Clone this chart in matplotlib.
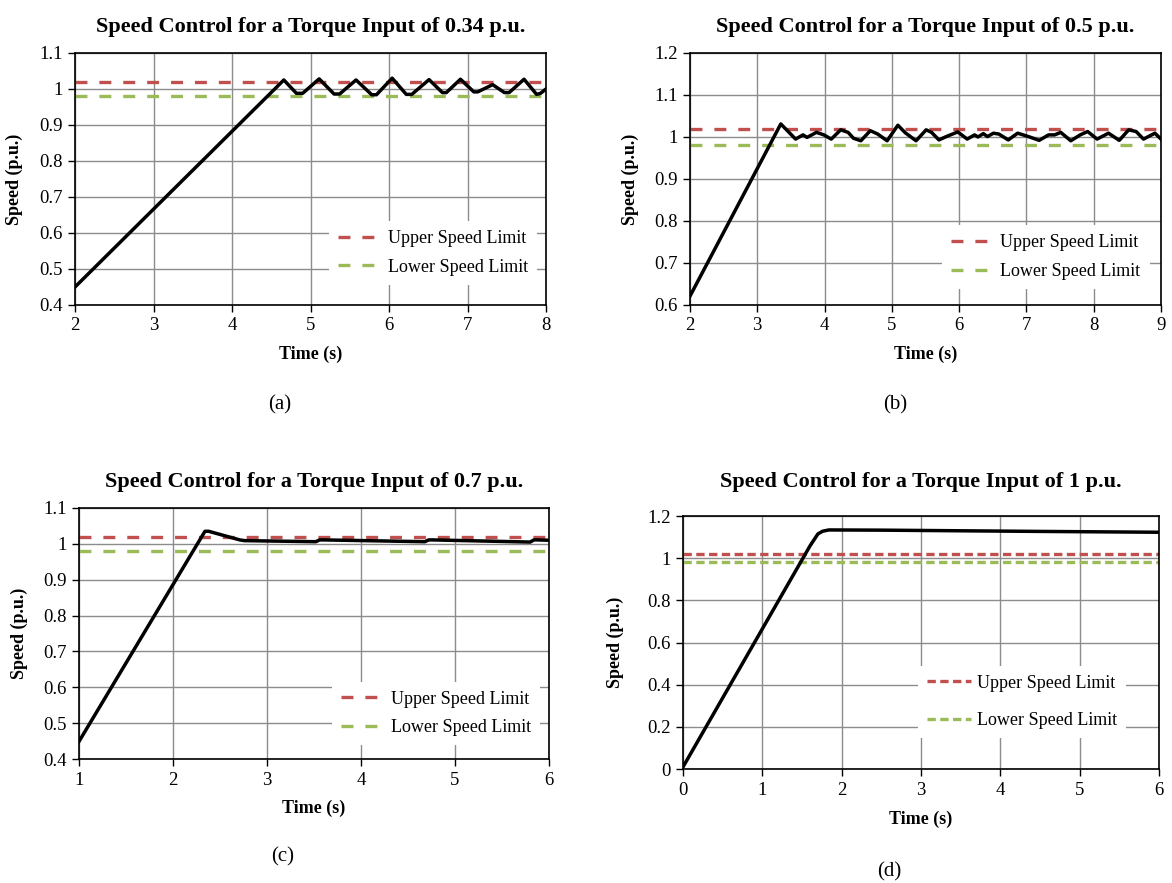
import matplotlib.pyplot as plt
from matplotlib.ticker import FuncFormatter

# speed response (p.u.) against time (s) for each torque input
t_034 = [2.0, 4.66, 4.82, 4.90, 5.11, 5.30, 5.37, 5.58, 5.78, 5.84, 6.04, 6.22, 6.29,
         6.51, 6.68, 6.73, 6.91, 7.08, 7.13, 7.32, 7.47, 7.53, 7.72, 7.88, 7.93, 8.0]
w_034 = [0.45, 1.025, 0.988, 0.988, 1.028, 0.986, 0.986, 1.025, 0.984, 0.984, 1.030, 0.985, 0.985,
         1.026, 0.990, 0.990, 1.027, 0.992, 0.992, 1.012, 0.990, 0.990, 1.027, 0.985, 0.988, 1.0]

t_05 = [2.0, 3.35, 3.57, 3.68, 3.74, 3.88, 3.99, 4.10, 4.24, 4.35, 4.43, 4.54, 4.68, 4.79,
        4.93, 5.09, 5.20, 5.36, 5.51, 5.59, 5.70, 5.81, 5.98, 6.12, 6.23, 6.28, 6.36, 6.42,
        6.51, 6.59, 6.73, 6.87, 7.03, 7.19, 7.33, 7.42, 7.51, 7.66, 7.80, 7.91, 8.05, 8.22,
        8.38, 8.52, 8.63, 8.74, 8.91, 9.0]
w_05 = [0.621, 1.031, 0.995, 1.005, 0.999, 1.011, 1.005, 0.995, 1.017, 1.011, 0.997, 0.991,
        1.015, 1.007, 0.991, 1.028, 1.010, 0.991, 1.017, 1.011, 0.993, 1.001, 1.012, 0.995,
        1.005, 1.000, 1.008, 1.001, 1.009, 1.007, 0.993, 1.009, 1.001, 0.992, 1.005, 1.005,
        1.011, 0.991, 1.005, 1.013, 0.995, 1.009, 0.992, 1.017, 1.013, 0.995, 1.009, 0.995]

t_07 = [1.0, 2.34, 2.38, 2.71, 2.76, 3.52, 3.56, 3.60, 4.68, 4.72, 4.76, 5.80, 5.84, 5.88, 6.0]
w_07 = [0.449, 1.035, 1.035, 1.011, 1.009, 1.006, 1.011, 1.011, 1.006, 1.011, 1.011,
        1.005, 1.011, 1.011, 1.010]

t_1 = [0.0, 1.60, 1.70, 1.76, 1.84, 2.5, 3.5, 4.5, 6.0]
w_1 = [0.01, 1.058, 1.115, 1.128, 1.134, 1.133, 1.130, 1.127, 1.123]

upper_limit = 1.02
lower_limit = 0.98

titles = ['Speed Control for a Torque Input of 0.34 p.u.',
          'Speed Control for a Torque Input of 0.5 p.u.',
          'Speed Control for a Torque Input of 0.7 p.u.',
          'Speed Control for a Torque Input of 1 p.u.']
captions = ['(a)', '(b)', '(c)', '(d)']

plt.rcParams['font.family'] = ['Liberation Serif', 'DejaVu Serif']
plt.rcParams['lines.scale_dashes'] = False

red = '#C0504D'
green = '#9BBB59'


def panel(rect, t, w, xlim, ylim, ystep, title, dashes, legpos, labelspacing, ylab_x, xlab_y, pad):
    ax = fig.add_axes(rect)
    ax.axhline(upper_limit, color=red, lw=2.4, dashes=dashes, label='Upper Speed Limit')
    ax.axhline(lower_limit, color=green, lw=2.4, dashes=dashes, label='Lower Speed Limit')
    ax.plot(t, w, color='black', lw=2.5, zorder=5)
    ax.set_xlim(xlim)
    ax.set_ylim(ylim)
    ax.set_xticks(range(xlim[0], xlim[1] + 1))
    n = int(round((ylim[1] - ylim[0]) / ystep))
    ax.set_yticks([ylim[0] + i * ystep for i in range(n + 1)])
    ax.yaxis.set_major_formatter(FuncFormatter(lambda v, p: '%g' % round(v, 3)))
    ax.grid(True, color='#8c8c8c', lw=1.0)
    ax.set_axisbelow(True)
    for s in ax.spines.values():
        s.set_linewidth(1.2)
        s.set_color('black')
    ax.tick_params(direction='out', length=5, width=1.0, labelsize=13.5, pad=4)
    ax.set_title(title, fontsize=16, fontweight='bold', pad=pad)
    ax.set_xlabel('Time (s)', fontsize=13, fontweight='bold')
    ax.set_ylabel('Speed (p.u.)', fontsize=13, fontweight='bold')
    ax.yaxis.set_label_coords(ylab_x, 0.5)
    ax.xaxis.set_label_coords(0.5, xlab_y)
    leg = ax.legend(loc='lower right', bbox_to_anchor=legpos, fontsize=13, frameon=True,
                    handlelength=2.4, handletextpad=0.35, labelspacing=labelspacing,
                    borderpad=0.5, fancybox=False)
    leg.get_frame().set_facecolor('white')
    leg.get_frame().set_edgecolor('none')
    leg.get_frame().set_alpha(1)
    return ax


fig = plt.figure(figsize=(11.72, 8.83), dpi=100)

long_dash = (8.6, 8.6)
short_dash = (6.0, 3.2)

panel([0.0640, 0.6546, 0.4019, 0.2854], t_034, w_034, (2, 8), (0.4, 1.1), 0.1, titles[0],
      long_dash, (1.0, 0.045), 0.65, -0.11, -0.16, 15)
panel([0.5887, 0.6546, 0.4019, 0.2854], t_05, w_05, (2, 9), (0.6, 1.2), 0.1, titles[1],
      long_dash, (0.995, 0.027), 0.65, -0.108, -0.16, 15)
panel([0.0674, 0.1404, 0.4010, 0.2843], t_07, w_07, (1, 6), (0.4, 1.1), 0.1, titles[2],
      long_dash, (1.0, 0.018), 0.65, -0.108, -0.16, 15)
panel([0.5828, 0.1291, 0.4061, 0.2865], t_1, w_1, (0, 6), (0.0, 1.2), 0.2, titles[3],
      short_dash, (0.95, 0.085), 1.15, -0.124, -0.166, 21)

fig.text(280 / 1172, 1 - 405 / 883, captions[0], fontsize=15, ha='center', va='center')
fig.text(895 / 1172, 1 - 405 / 883, captions[1], fontsize=15, ha='center', va='center')
fig.text(283 / 1172, 1 - 857 / 883, captions[2], fontsize=15, ha='center', va='center')
fig.text(889 / 1172, 1 - 872 / 883, captions[3], fontsize=15, ha='center', va='center')

fig.savefig('out.png', dpi=100, facecolor='white')
